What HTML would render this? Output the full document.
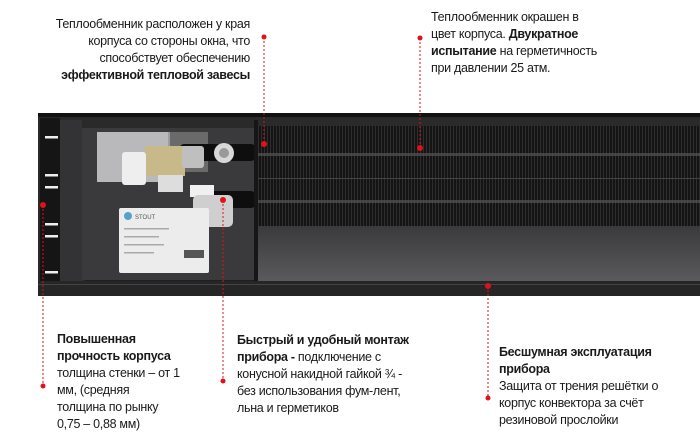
<!DOCTYPE html>
<html><head><meta charset="utf-8"><style>
html,body{margin:0;padding:0;background:#fff;width:700px;height:442px;overflow:hidden;position:relative}
.t{position:absolute;font-family:"Liberation Sans",sans-serif;font-size:12.5px;line-height:17px;color:#1a1a1a;letter-spacing:-0.3px}
b{font-weight:bold}
svg{position:absolute;left:0;top:0}
</style></head><body>
<svg width="700" height="442">
<defs>
<linearGradient id="lg" x1="0" y1="0" x2="0" y2="1"><stop offset="0" stop-color="#3a3a3c"/><stop offset="1" stop-color="#5a5a5c"/></linearGradient>
<pattern id="fin" width="3" height="10" patternUnits="userSpaceOnUse"><rect width="3" height="10" fill="#141414"/><rect width="1" height="10" fill="#2e2e2e"/></pattern>
</defs>
<rect x="38" y="113" width="662" height="183" fill="#2a2a2b"/>
<rect x="38" y="113" width="662" height="4" fill="#111"/>
<rect x="40" y="118" width="20" height="168" fill="#151515"/>
<g fill="#eee"><rect x="45" y="136" width="13" height="2.5"/><rect x="45" y="174" width="13" height="2.5"/><rect x="45" y="186" width="13" height="2.5"/><rect x="45" y="223" width="13" height="2.5"/><rect x="45" y="235" width="13" height="2.5"/><rect x="45" y="271" width="13" height="2.5"/></g>
<rect x="60" y="120" width="22" height="165" fill="#333335"/>
<rect x="82" y="128" width="174" height="152" fill="#3a3a3c"/>
<rect x="97" y="132" width="73" height="50" fill="#b9b9bb"/>
<rect x="168" y="132" width="40" height="40" fill="#8a8a8a" opacity="0.6"/>
<rect x="180" y="144" width="75" height="17" fill="#0e0e0e" rx="4"/>
<rect x="205" y="191" width="50" height="17" fill="#0e0e0e" rx="4"/>
<rect x="145" y="146" width="40" height="30" fill="#c8b98a"/>
<rect x="122" y="152" width="24" height="33" fill="#eee" rx="3"/>
<rect x="158" y="175" width="25" height="17" fill="#ddd"/>
<rect x="182" y="146" width="22" height="22" fill="#bfbfbf" rx="3"/>
<circle cx="224" cy="153" r="10" fill="#d8d8d8"/><circle cx="224" cy="153" r="5" fill="#999"/>
<rect x="190" y="185" width="24" height="12" fill="#f0f0f0"/>
<rect x="193" y="195" width="40" height="32" fill="#cfcfcf" rx="5"/>
<rect x="119" y="208" width="90" height="65" fill="#ececec" rx="2"/>
<circle cx="128" cy="216" r="4" fill="#5aa0c8"/>
<text x="135" y="219" font-family="Liberation Sans" font-size="6" fill="#555">STOUT</text>
<g fill="#aaa"><rect x="124" y="228" width="45" height="1.5"/><rect x="124" y="236" width="35" height="1.5"/><rect x="124" y="244" width="40" height="1.5"/><rect x="124" y="252" width="30" height="1.5"/><rect x="184" y="250" width="20" height="8" fill="#555"/></g>
<rect x="85" y="280" width="170" height="4" fill="#1e1e1e"/>
<rect x="254" y="120" width="4" height="165" fill="#161616"/>
<rect x="258" y="126" width="442" height="100" fill="url(#fin)"/>
<rect x="258" y="153" width="442" height="3" fill="#555" opacity="0.7"/>
<rect x="258" y="200" width="442" height="3" fill="#555" opacity="0.7"/>
<rect x="258" y="178" width="442" height="1" fill="#444"/>
<rect x="258" y="226" width="442" height="55" fill="url(#lg)"/>
<rect x="38" y="281" width="662" height="15" fill="#262627"/>
<rect x="38" y="284" width="662" height="1" fill="#444"/>
<g stroke="#e3101a" stroke-width="1" stroke-dasharray="2,2" fill="none">
<line x1="43" y1="205" x2="43" y2="386"/>
<line x1="223" y1="200" x2="223" y2="381"/>
<line x1="264" y1="37" x2="264" y2="144"/>
<line x1="420" y1="38" x2="420" y2="148"/>
<line x1="488" y1="286" x2="488" y2="398"/>
</g>
<g fill="#e3101a">
<circle cx="43" cy="205" r="3"/><circle cx="43" cy="386" r="2.5"/>
<circle cx="223" cy="200" r="3"/><circle cx="223" cy="381" r="2.5"/>
<circle cx="264" cy="37" r="2.5"/><circle cx="264" cy="144" r="3"/>
<circle cx="420" cy="38" r="2.5"/><circle cx="420" cy="148" r="3"/>
<circle cx="488" cy="286" r="3"/><circle cx="488" cy="398" r="2.5"/>
</g>
</svg>
<div class="t" style="right:450px;top:16px;text-align:right;width:240px">Теплообменник расположен у края<br>корпуса со стороны окна, что<br>способствует обеспечению<br><b>эффективной тепловой завесы</b></div>
<div class="t" style="left:431px;top:9px">Теплообменник окрашен в<br>цвет корпуса. <b>Двукратное<br>испытание</b> на герметичность<br>при давлении 25 атм.</div>
<div class="t" style="left:57px;top:331px"><b>Повышенная<br>прочность корпуса</b><br>толщина стенки – от 1<br>мм, (средняя<br>толщина по рынку<br>0,75 – 0,88 мм)</div>
<div class="t" style="left:237px;top:332px"><b>Быстрый и удобный монтаж<br>прибора -</b> подключение с<br>конусной накидной гайкой ¾ -<br>без использования фум-лент,<br>льна и герметиков</div>
<div class="t" style="left:499px;top:344px"><b>Бесшумная эксплуатация<br>прибора</b><br>Защита от трения решётки о<br>корпус конвектора за счёт<br>резиновой прослойки</div>
</body></html>
